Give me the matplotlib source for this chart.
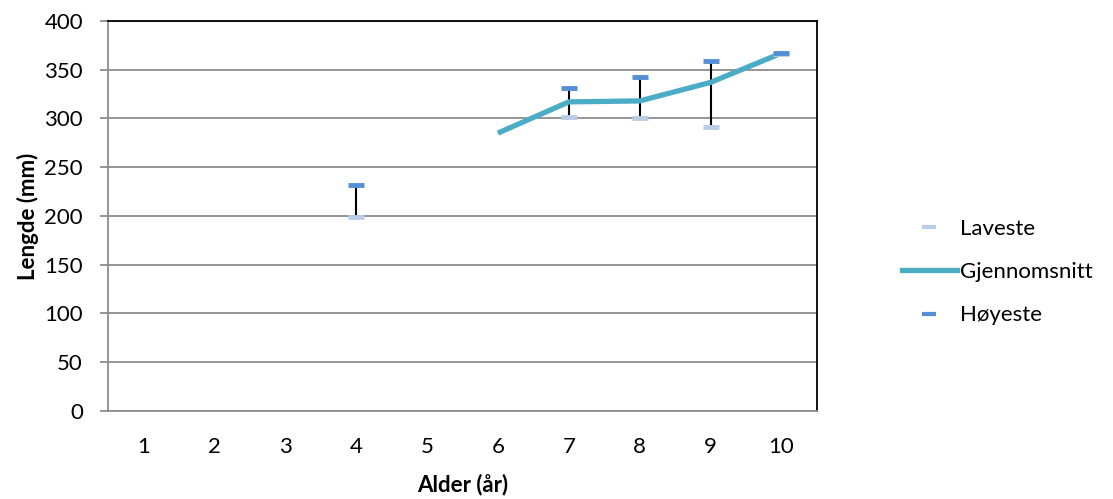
import numpy as np
import matplotlib
matplotlib.use("Agg")
import matplotlib.pyplot as plt
from matplotlib.lines import Line2D

plt.rcParams['font.family'] = ['Lato', 'DejaVu Sans']

ages = [1, 2, 3, 4, 5, 6, 7, 8, 9, 10]
# min / mean / max length per age (mm); None = no data
laveste = [None, None, None, 199, None, None, 302, 300, 291, 366]
gjennomsnitt = [None, None, None, None, None, 285, 317, 318, 337, 367]
hoyeste = [None, None, None, 232, None, None, 331, 343, 359, 367]

C_LOW = "#b9cde5"
C_MEAN = "#4bacc6"
C_HIGH = "#558ed5"
FS = 16

fig = plt.figure(figsize=(11.13, 4.99), dpi=100)
ax = fig.add_axes([0.097, 0.1764, 0.637, 0.7816])

lo = np.array([np.nan if v is None else v for v in laveste], dtype=float)
mn = np.array([np.nan if v is None else v for v in gjennomsnitt], dtype=float)
hi = np.array([np.nan if v is None else v for v in hoyeste], dtype=float)
x = np.array(ages)

# high-low lines
ok = ~np.isnan(lo) & ~np.isnan(hi)
ax.vlines(x[ok], lo[ok], hi[ok], color="black", lw=1.5, zorder=3)

ax.plot(x, mn, color=C_MEAN, lw=3.8, zorder=4, solid_capstyle="butt")
ax.plot(x, lo, ls="none", marker="_", ms=12, mew=3.5, color=C_LOW, zorder=5)
ax.plot(x, hi, ls="none", marker="_", ms=12, mew=3.5, color=C_HIGH, zorder=5)

ax.set_xlim(0.5, 10.5)
ax.set_ylim(0, 400)
ax.set_yticks(range(0, 401, 50))
ax.set_xticks(ages)
ax.yaxis.grid(True, color="#8c8c8c", lw=1.3)
ax.set_axisbelow(True)
for s in ("left", "bottom"):
    ax.spines[s].set_color("#8c8c8c")
    ax.spines[s].set_linewidth(1.3)
for s in ("top", "right"):
    ax.spines[s].set_color("black")
    ax.spines[s].set_linewidth(1.3)
ax.tick_params(axis="y", length=6, color="#8c8c8c", width=1.3, labelsize=FS, pad=12)
ax.tick_params(axis="x", length=0, labelsize=FS, pad=19)

ax.set_xlabel("Alder (år)", fontsize=FS, fontweight="bold", labelpad=12)
ax.set_ylabel("Lengde (mm)", fontsize=FS, fontweight="bold", labelpad=4)

handles = [
    Line2D([], [], ls="none", marker="_", ms=10, mew=3, color=C_LOW),
    Line2D([], [], color=C_MEAN, lw=3.8),
    Line2D([], [], ls="none", marker="_", ms=10, mew=3, color=C_HIGH),
]
fig.legend(handles, ["Laveste", "Gjennomsnitt", "Høyeste"],
           loc="center left", bbox_to_anchor=(0.81, 0.455), frameon=False,
           borderpad=0, borderaxespad=0,
           fontsize=FS, handlelength=2.5, handletextpad=0.15, labelspacing=1.05)

fig.savefig("out.png", dpi=100)
